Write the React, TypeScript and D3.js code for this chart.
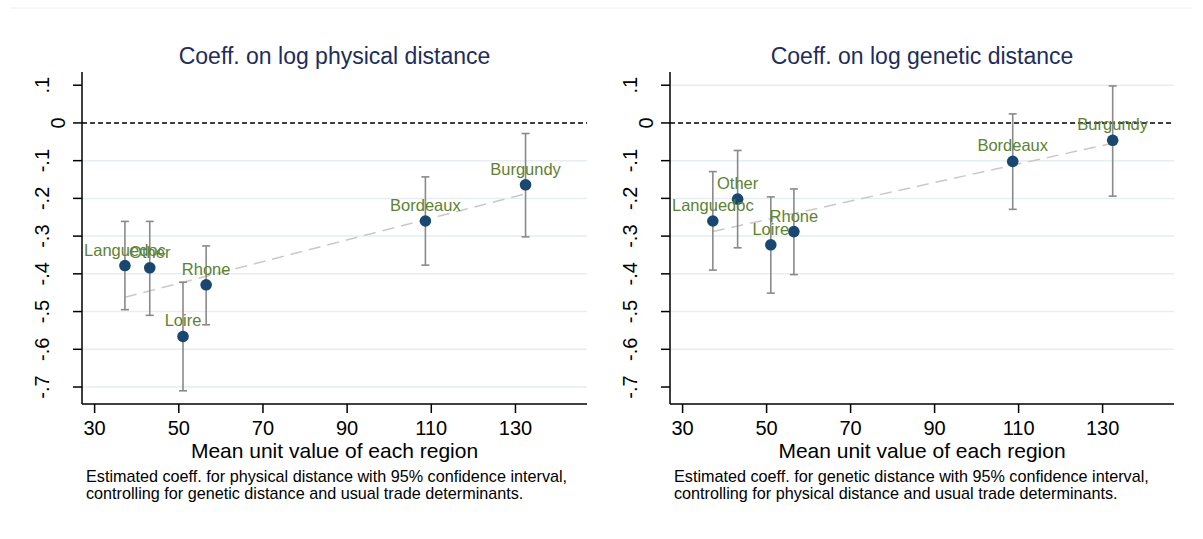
import React from "react";
import * as d3 from "d3";

const regions = ["Languedoc", "Other", "Loire", "Rhone", "Bordeaux", "Burgundy"];
const unitValue = [37.2, 43.1, 51.0, 56.5, 108.6, 132.4];

const physCoef = [-0.378, -0.384, -0.566, -0.429, -0.26, -0.164];
const physLo = [-0.495, -0.51, -0.71, -0.535, -0.377, -0.302];
const physHi = [-0.261, -0.261, -0.422, -0.326, -0.143, -0.028];

const genCoef = [-0.26, -0.202, -0.323, -0.288, -0.102, -0.046];
const genLo = [-0.39, -0.331, -0.451, -0.402, -0.229, -0.194];
const genHi = [-0.129, -0.073, -0.196, -0.175, 0.024, 0.098];

const xTicks = [30, 50, 70, 90, 110, 130];
const yTicks = [0.1, 0, -0.1, -0.2, -0.3, -0.4, -0.5, -0.6, -0.7];
const yTickLabels = [".1", "0", "-.1", "-.2", "-.3", "-.4", "-.5", "-.6", "-.7"];
const gridLeft = [-0.1, -0.2, -0.3, -0.4, -0.5, -0.6, -0.7];
const gridRight = [0.1, -0.1, -0.2, -0.3, -0.4, -0.5, -0.6];

const titles = ["Coeff. on log physical distance", "Coeff. on log genetic distance"];
const xTitle = "Mean unit value of each region";
const notes = [
  [
    "Estimated coeff. for physical distance with 95% confidence interval,",
    "controlling for genetic distance and usual trade determinants.",
  ],
  [
    "Estimated coeff. for genetic distance with 95% confidence interval,",
    "controlling for physical distance and usual trade determinants.",
  ],
];

const FONT = "'Liberation Sans', Arial, Helvetica, sans-serif";
const NAVY = "#1a476f";
const GREEN = "#5e8233";
const GRID = "#e6eef1";

type PanelProps = {
  left: number;
  right: number;
  coef: number[];
  lo: number[];
  hi: number[];
  grid: number[];
  title: string;
  note: string[];
};

function Panel({ left, right, coef, lo, hi, grid, title, note }: PanelProps) {
  const top = 72;
  const bottom = 404;
  const x = d3.scaleLinear().domain([27, 147]).range([left, right]);
  const y = d3.scaleLinear().domain([-0.745, 0.135]).range([bottom, top]);

  // OLS fit line
  const mx = d3.mean(unitValue)!;
  const my = d3.mean(coef)!;
  let sxy = 0;
  let sxx = 0;
  unitValue.forEach((v, i) => {
    sxy += (v - mx) * (coef[i] - my);
    sxx += (v - mx) * (v - mx);
  });
  const slope = sxy / sxx;
  const icpt = my - slope * mx;
  const [x0, x1] = d3.extent(unitValue) as [number, number];
  const fitLine = d3.line<number>().x((d) => x(d)).y((d) => y(icpt + slope * d));

  const cx = (left + right) / 2;

  return (
    <g fontFamily={FONT}>
      <text x={cx} y={64} textAnchor="middle" fontSize={23} fill="#1e2d5a">
        {title}
      </text>
      {grid.map((g) => (
        <line key={"g" + g} x1={left} x2={right} y1={y(g)} y2={y(g)} stroke={GRID} strokeWidth={1.5} />
      ))}
      <line x1={left} x2={right} y1={y(0)} y2={y(0)} stroke="#000" strokeWidth={1.5} strokeDasharray="5,3" />
      <path d={fitLine([x0, x1]) || ""} fill="none" stroke="#c9c9c9" strokeWidth={1.5} strokeDasharray="12,7" />
      {unitValue.map((v, i) => (
        <g key={"e" + i} stroke="#8a8a8a" strokeWidth={1.6}>
          <line x1={x(v)} x2={x(v)} y1={y(lo[i])} y2={y(hi[i])} />
          <line x1={x(v) - 4} x2={x(v) + 4} y1={y(lo[i])} y2={y(lo[i])} />
          <line x1={x(v) - 4} x2={x(v) + 4} y1={y(hi[i])} y2={y(hi[i])} />
        </g>
      ))}
      {unitValue.map((v, i) => (
        <circle key={"c" + i} cx={x(v)} cy={y(coef[i])} r={5.8} fill={NAVY} />
      ))}
      {unitValue.map((v, i) => (
        <text key={"l" + i} x={x(v)} y={y(coef[i]) - 10} textAnchor="middle" fontSize={16.5} fill={GREEN}>
          {regions[i]}
        </text>
      ))}
      {/* axes */}
      <line x1={left} x2={left} y1={top} y2={bottom} stroke="#000" strokeWidth={1.5} />
      <line x1={left} x2={right} y1={bottom} y2={bottom} stroke="#000" strokeWidth={1.5} />
      {yTicks.map((t, i) => {
        const isZero = yTickLabels[i] === "0";
        const bx = left - (isZero ? 17 : 33);
        return (
          <g key={"y" + t}>
            <line x1={left - 9} x2={left} y1={y(t)} y2={y(t)} stroke="#000" strokeWidth={1.5} />
            <text
              transform={`translate(${bx},${y(t)}) rotate(-90)`}
              textAnchor="middle"
              fontSize={20}
              fill="#000"
            >
              {yTickLabels[i]}
            </text>
          </g>
        );
      })}
      {xTicks.map((t) => (
        <g key={"x" + t}>
          <line x1={x(t)} x2={x(t)} y1={bottom} y2={bottom + 9} stroke="#000" strokeWidth={1.5} />
          <text x={x(t)} y={435} textAnchor="middle" fontSize={20} fill="#000">
            {t}
          </text>
        </g>
      ))}
      <text x={cx} y={458} textAnchor="middle" fontSize={21} fill="#000">
        {xTitle}
      </text>
      {note.map((n, i) => (
        <text key={"n" + i} x={left + 4} y={482 + i * 17} fontSize={16.2} fill="#000">
          {n}
        </text>
      ))}
    </g>
  );
}

export default function App() {
  return (
    <svg width={1203} height={539} style={{ position: "absolute", left: 0, top: 0, background: "#fff" }}>
      <rect x={0} y={0} width={1203} height={539} fill="#fff" />
      <line x1={10} x2={1193} y1={8} y2={8} stroke="#f0f0f0" strokeWidth={1} />
      <Panel
        left={82}
        right={587}
        coef={physCoef}
        lo={physLo}
        hi={physHi}
        grid={gridLeft}
        title={titles[0]}
        note={notes[0]}
      />
      <Panel
        left={670}
        right={1174}
        coef={genCoef}
        lo={genLo}
        hi={genHi}
        grid={gridRight}
        title={titles[1]}
        note={notes[1]}
      />
    </svg>
  );
}
